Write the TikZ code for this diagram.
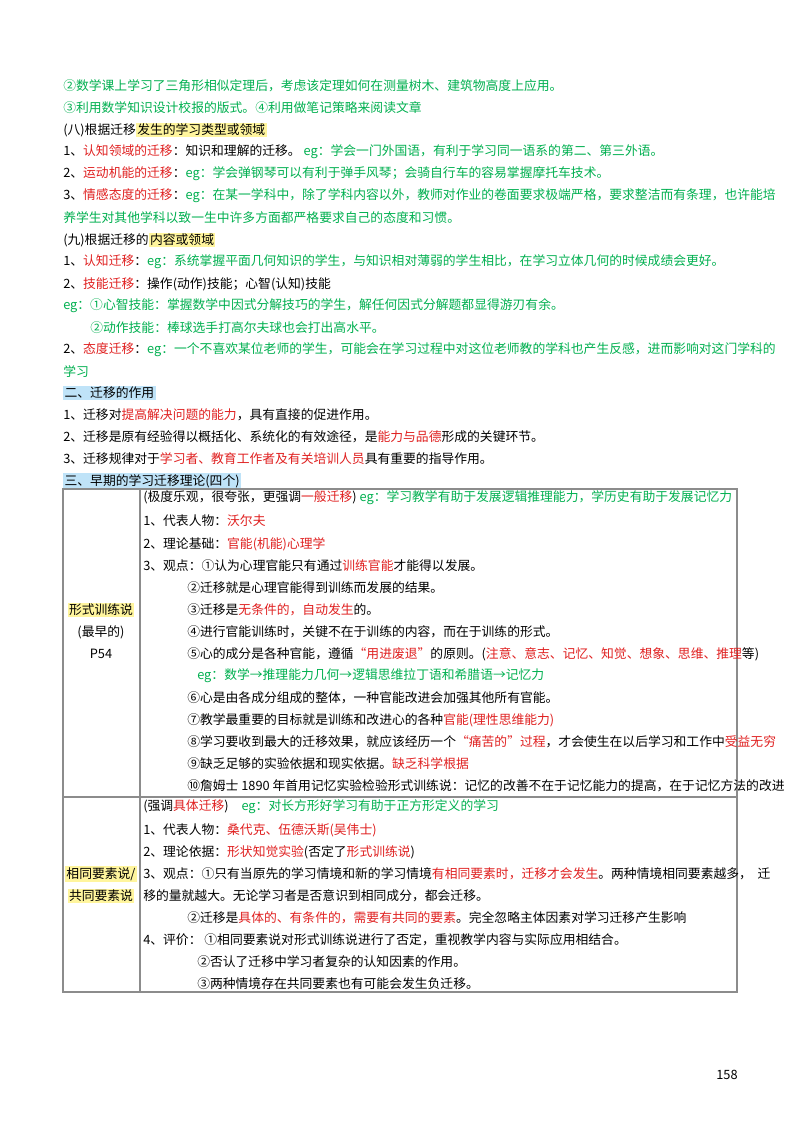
\documentclass[tikz,border=0pt]{standalone}
\usepackage{fontspec}
\setmainfont{Noto Sans CJK SC}
\usepackage{xcolor}
\usetikzlibrary{positioning}
\definecolor{egreen}{HTML}{00B050}
\definecolor{kred}{HTML}{E02020}
\definecolor{hly}{HTML}{FFF59D}
\definecolor{hlb}{HTML}{BFE3F8}
\definecolor{rule}{HTML}{8C8C8C}
\newcommand{\gn}[1]{\textcolor{egreen}{#1}}
\newcommand{\rd}[1]{\textcolor{kred}{#1}}
\newcommand{\hly}[1]{{\setlength{\fboxsep}{1pt}\colorbox{hly}{#1}}}
\newcommand{\hlb}[1]{{\setlength{\fboxsep}{1pt}\colorbox{hlb}{#1}}}
\begin{document}
\begin{tikzpicture}[x=0.75pt,y=-0.75pt,
  ln/.style={anchor=west,inner sep=0pt,font=\fontsize{9.6}{12}\selectfont},
  cell/.style={anchor=center,inner sep=0pt,font=\fontsize{9.6}{12}\selectfont}]
\useasboundingbox[fill=white] (0,0) rectangle (800,1130);
% text above the table
\node[ln] (l1) at (63,86) {\gn{②数学课上学习了三角形相似定理后，考虑该定理如何在测量树木、建筑物高度上应用。}};
\node[ln] (l2) at (63,108) {\gn{③利用数学知识设计校报的版式。④利用做笔记策略来阅读文章}};
\node[ln] (l3) at (63,130) {(八)根据迁移\hly{发生的学习类型或领域}};
\node[ln] (l4) at (63,152) {1、\rd{认知领域的迁移}：知识和理解的迁移。 \gn{eg：学会一门外国语，有利于学习同一语系的第二、第三外语。}};
\node[ln] (l5) at (63,174) {2、\rd{运动机能的迁移}：\gn{eg：学会弹钢琴可以有利于弹手风琴；会骑自行车的容易掌握摩托车技术。}};
\node[ln] (l6) at (63,196) {3、\rd{情感态度的迁移}：\gn{eg：在某一学科中，除了学科内容以外，教师对作业的卷面要求极端严格，要求整洁而有条理，也许能培}};
\node[ln] (l7) at (63,218) {\gn{养学生对其他学科以致一生中许多方面都严格要求自己的态度和习惯。}};
\node[ln] (l8) at (63,240) {(九)根据迁移的\hly{内容或领域}};
\node[ln] (l9) at (63,262) {1、\rd{认知迁移}：\gn{eg：系统掌握平面几何知识的学生，与知识相对薄弱的学生相比，在学习立体几何的时候成绩会更好。}};
\node[ln] (l10) at (63,284) {2、\rd{技能迁移}：操作(动作)技能；心智(认知)技能};
\node[ln] (l11) at (63,306) {\gn{eg：①心智技能：掌握数学中因式分解技巧的学生，解任何因式分解题都显得游刃有余。}};
\node[ln] (l12) at (90,328) {\gn{②动作技能：棒球选手打高尔夫球也会打出高水平。}};
\node[ln] (l13) at (63,350) {2、\rd{态度迁移}：\gn{eg：一个不喜欢某位老师的学生，可能会在学习过程中对这位老师教的学科也产生反感，进而影响对这门学科的}};
\node[ln] (l14) at (63,372) {\gn{学习}};
\node[ln] (l15) at (63,393) {\hlb{二、迁移的作用}};
\node[ln] (l16) at (63,415) {1、迁移对\rd{提高解决问题的能力}，具有直接的促进作用。};
\node[ln] (l17) at (63,437) {2、迁移是原有经验得以概括化、系统化的有效途径，是\rd{能力与品德}形成的关键环节。};
\node[ln] (l18) at (63,459) {3、迁移规律对于\rd{学习者、教育工作者及有关培训人员}具有重要的指导作用。};
\node[ln] (l19) at (63,481) {\hlb{三、早期的学习迁移理论(四个)}};
% table
\draw[rule,line width=0.8pt] (63,489) rectangle (737,992);
\draw[rule,line width=0.8pt] (63,797) -- (737,797);
\draw[rule,line width=0.8pt] (140,489) -- (140,992);
\node[cell] (c1) at (101,610) {\hly{形式训练说}};
\node[cell] (c2) at (101,632) {(最早的)};
\node[cell] (c3) at (101,654) {P54};
\node[ln] (t1) at (143,498) {(极度乐观，很夸张，更强调\rd{一般迁移}) \gn{eg：学习教学有助于发展逻辑推理能力，学历史有助于发展记忆力}};
\node[ln] (t2) at (143,521) {1、代表人物：\rd{沃尔夫}};
\node[ln] (t3) at (143,544) {2、理论基础：\rd{官能(机能)心理学}};
\node[ln] (t4) at (143,566) {3、观点：①认为心理官能只有通过\rd{训练官能}才能得以发展。};
\node[ln] (t5) at (187,588) {②迁移就是心理官能得到训练而发展的结果。};
\node[ln] (t6) at (187,610) {③迁移是\rd{无条件的，自动发生}的。};
\node[ln] (t7) at (187,632) {④进行官能训练时，关键不在于训练的内容，而在于训练的形式。};
\node[ln] (t8) at (187,654) {⑤心的成分是各种官能，遵循\rd{“用进废退”}的原则。(\rd{注意、意志、记忆、知觉、想象、思维、推理}等)};
\node[ln] (t9) at (197,676) {\gn{eg：数学→推理能力几何→逻辑思维拉丁语和希腊语→记忆力}};
\node[ln] (t10) at (187,698) {⑥心是由各成分组成的整体，一种官能改进会加强其他所有官能。};
\node[ln] (t11) at (187,720) {⑦教学最重要的目标就是训练和改进心的各种\rd{官能(理性思维能力)}};
\node[ln] (t12) at (187,742) {⑧学习要收到最大的迁移效果，就应该经历一个\rd{“痛苦的”过程}，才会使生在以后学习和工作中\rd{受益无穷}};
\node[ln] (t13) at (187,764) {⑨缺乏足够的实验依据和现实依据。\rd{缺乏科学根据}};
\node[ln] (t14) at (187,786) {⑩詹姆士 1890 年首用记忆实验检验形式训练说：记忆的改善不在于记忆能力的提高，在于记忆方法的改进};
\node[cell] (c4) at (101,874) {\hly{相同要素说/}};
\node[cell] (c5) at (101,896) {\hly{共同要素说}};
\node[ln] (s1) at (143,807) {(强调\rd{具体迁移})\quad\gn{eg：对长方形好学习有助于正方形定义的学习}};
\node[ln] (s2) at (143,830) {1、代表人物：\rd{桑代克、伍德沃斯(吴伟士)}};
\node[ln] (s3) at (143,852) {2、理论依据：\rd{形状知觉实验}(否定了\rd{形式训练说})};
\node[ln] (s4) at (143,874) {3、观点：①只有当原先的学习情境和新的学习情境\rd{有相同要素时，迁移才会发生}。两种情境相同要素越多，\ \ 迁};
\node[ln] (s5) at (143,896) {移的量就越大。无论学习者是否意识到相同成分，都会迁移。};
\node[ln] (s6) at (187,918) {②迁移是\rd{具体的、有条件的，需要有共同的要素}。完全忽略主体因素对学习迁移产生影响};
\node[ln] (s7) at (143,940) {4、评价：\ ①相同要素说对形式训练说进行了否定，重视教学内容与实际应用相结合。};
\node[ln] (s8) at (197,962) {②否认了迁移中学习者复杂的认知因素的作用。};
\node[ln] (s9) at (197,984) {③两种情境存在共同要素也有可能会发生负迁移。};
\node[cell] (pg) at (727,1075) {158};
\end{tikzpicture}
\end{document}
